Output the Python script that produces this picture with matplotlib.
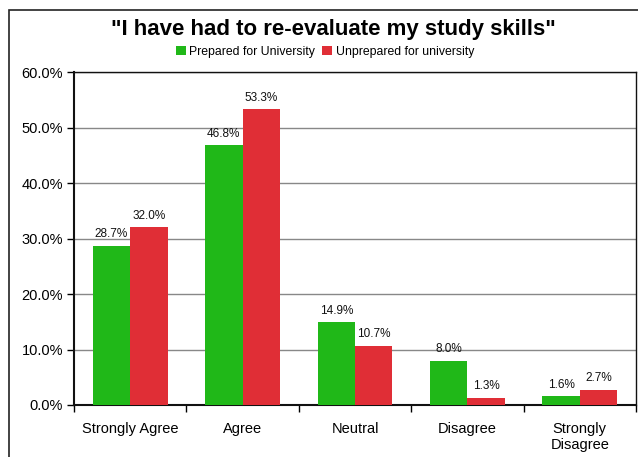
import matplotlib
matplotlib.use("Agg")
import matplotlib.pyplot as plt
import numpy as np
from matplotlib.patches import Rectangle
from matplotlib.ticker import MultipleLocator, FuncFormatter

plt.rcParams['font.family'] = ['Liberation Sans', 'DejaVu Sans']

categories = ["Strongly Agree", "Agree", "Neutral", "Disagree", "Strongly\nDisagree"]
prepared = [28.7, 46.8, 14.9, 8.0, 1.6]
unprepared = [32.0, 53.3, 10.7, 1.3, 2.7]
series_names = ["Prepared for University", "Unprepared for university"]

green = "#20B818"
red = "#E02E36"

W, H = 638, 457
fig = plt.figure(figsize=(W / 100, H / 100), dpi=100)

# outer chart border (top and left edges visible)
fig.patches.append(Rectangle((9 / W, -0.1), 2.0, 1 - 10 / H + 0.1,
                             transform=fig.transFigure, fill=False,
                             edgecolor="#222222", linewidth=1.2))

left, right, top, bottom = 74, 636, 72, 405
ax = fig.add_axes([left / W, 1 - bottom / H, (right - left) / W, (bottom - top) / H])

x = np.arange(len(categories))
bw = 1 / 3
b1 = ax.bar(x - bw / 2, prepared, bw, color=green, label=series_names[0], zorder=3)
b2 = ax.bar(x + bw / 2, unprepared, bw, color=red, label=series_names[1], zorder=3)

for bars, vals in ((b1, prepared), (b2, unprepared)):
    for rect, v in zip(bars, vals):
        ax.text(rect.get_x() + rect.get_width() / 2, v + 1.0, f"{v:.1f}%",
                ha="center", va="bottom", fontsize=8.5, color="#111111")

ax.set_xlim(-0.5, len(categories) - 0.5)
ax.set_ylim(0, 60)
ax.yaxis.set_major_locator(MultipleLocator(10))
ax.yaxis.set_major_formatter(FuncFormatter(lambda v, p: f"{v:.1f}%"))
ax.grid(axis="y", color="#888888", linewidth=1.0, zorder=0)

ax.set_xticks(x)
ax.set_xticklabels(categories, fontsize=10.5, linespacing=1.2)
ax.set_xticks(np.arange(len(categories) + 1) - 0.5, minor=True)
ax.tick_params(axis="x", which="major", length=0, pad=12)
ax.tick_params(axis="x", which="minor", length=5, width=1, direction="out")
ax.tick_params(axis="y", length=5, width=1, labelsize=10.5, pad=3)

for s in ax.spines.values():
    s.set_linewidth(1.0)
    s.set_color("#111111")
ax.spines["left"].set_linewidth(1.5)
ax.spines["bottom"].set_linewidth(1.5)

fig.text(333 / W, 1 - 30 / H, '"I have had to re-evaluate my study skills"',
         ha="center", va="center", fontsize=16, fontweight="bold")

fig.legend(handles=[b1, b2], labels=series_names, loc="center",
           bbox_to_anchor=(325 / W, 1 - 52 / H), ncol=2, frameon=False,
           fontsize=8.8, handlelength=0.8, handleheight=0.8, handletextpad=0.3,
           columnspacing=0.6, borderpad=0)

fig.savefig("out.png", dpi=100)
